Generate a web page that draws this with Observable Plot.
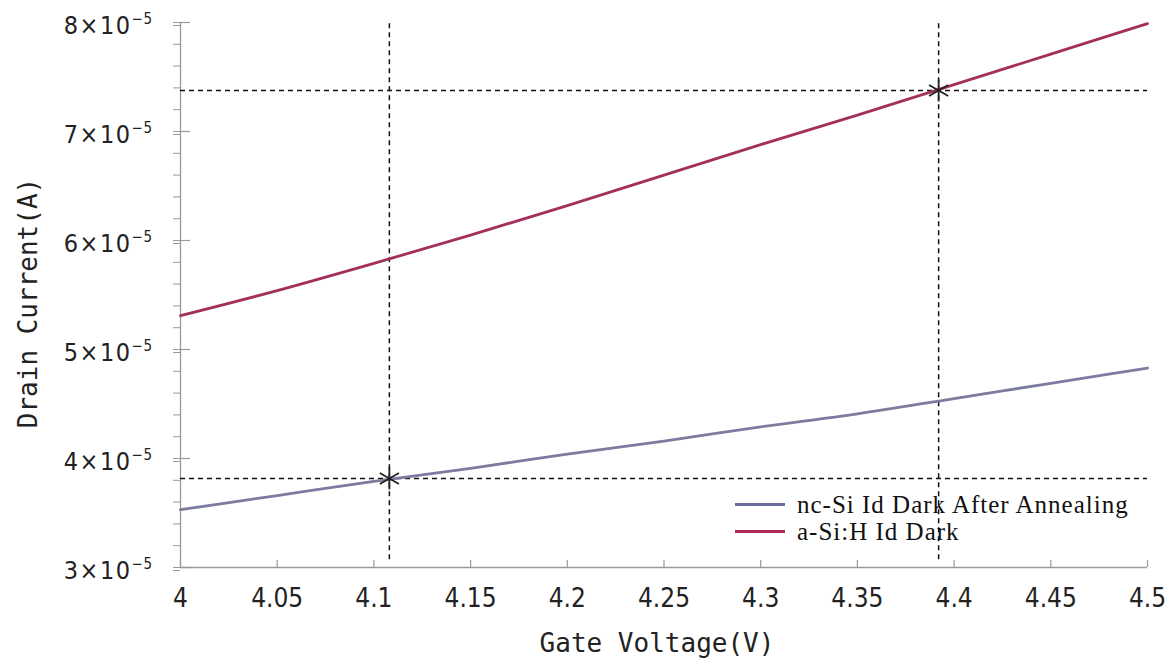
<!DOCTYPE html>
<html><head><meta charset="utf-8">
<script src="https://cdn.jsdelivr.net/npm/d3@7"></script>
<script src="https://cdn.jsdelivr.net/npm/@observablehq/plot@0.6"></script>
<style>
body{margin:0;background:#fff;}
#wrap{position:relative;width:1172px;height:667px;overflow:hidden;}
#legend{position:absolute;left:735px;top:491px;font-family:"Liberation Serif","Times New Roman",serif;font-size:25px;letter-spacing:1px;color:#111;line-height:1;}
.row{display:flex;align-items:center;height:27px;white-space:nowrap;}
.sw{width:50px;height:3px;margin-right:12px;}
</style></head><body><div id="wrap"></div>
<script>
// Gate voltage samples (V)
const voltage = [4.00, 4.05, 4.10, 4.15, 4.20, 4.25, 4.30, 4.35, 4.40, 4.45, 4.50];
// Drain current (A)
const ncSiAnnealed = [3.53e-5, 3.66e-5, 3.79e-5, 3.91e-5, 4.04e-5, 4.16e-5, 4.29e-5, 4.41e-5, 4.55e-5, 4.69e-5, 4.83e-5];
const aSiH = [5.31e-5, 5.54e-5, 5.79e-5, 6.05e-5, 6.32e-5, 6.60e-5, 6.88e-5, 7.15e-5, 7.43e-5, 7.71e-5, 7.99e-5];
const seriesNames = ["nc-Si Id Dark After Annealing", "a-Si:H Id Dark"];
const seriesColors = ["#7c7c9e", "#a3305c"];
const swatchColors = ["#6c6c9e", "#b02858"];
// marked operating points
const markV = [4.108, 4.392];
const markI = [3.817e-5, 7.376e-5];
// ticks
const xTicks = [4, 4.05, 4.1, 4.15, 4.2, 4.25, 4.3, 4.35, 4.4, 4.45, 4.5];
const yTicks = [3e-5, 4e-5, 5e-5, 6e-5, 7e-5, 8e-5];
const yMinor = d3.range(15, 41).map(k => k * 2e-6);
const xTitle = "Gate Voltage(V)";
const yTitle = "Drain Current(A)";

const rows = [];
voltage.forEach((v, i) => {
  rows.push({v, I: ncSiAnnealed[i], s: seriesNames[0]});
  rows.push({v, I: aSiH[i], s: seriesNames[1]});
});
const points = markV.map((v, i) => ({v, I: markI[i]}));

const axisGray = "#9a9a9a";
const tickFont = "'DejaVu Sans Condensed', 'DejaVu Sans', Verdana, sans-serif";
const monoFont = "'DejaVu Sans Mono', 'Liberation Mono', monospace";

const chart = Plot.plot({
  width: 1172, height: 667,
  marginLeft: 180, marginRight: 25, marginTop: 22, marginBottom: 100,
  style: {background: "#fff", overflow: "visible"},
  x: {domain: [4, 4.5]},
  y: {domain: [3e-5, 8e-5]},
  color: {domain: seriesNames, range: seriesColors},
  marks: [
    // axis lines
    Plot.ruleX([4], {stroke: axisGray, strokeWidth: 1.3}),
    Plot.ruleY([3e-5], {stroke: axisGray, strokeWidth: 1.3}),
    // y minor ticks (outside)
    Plot.axisY({ticks: yMinor, tickSize: 7, tickFormat: () => "", stroke: axisGray, label: null}),
    // y major ticks with labels
    Plot.axisY({ticks: yTicks, tickSize: 7, tickPadding: 21, stroke: axisGray, dy: 3,
      tickFormat: d => `${Math.round(d * 1e5)}×10`, fontSize: 25, fontFamily: tickFont, fill: "#222", label: null}),
    // y major ticks inner part
    Plot.tickY(yTicks, {y: d => d, stroke: axisGray, insetRight: 957, strokeWidth: 1.2}),
    // x ticks (inner, upward)
    Plot.tickX(xTicks, {x: d => d, stroke: axisGray, insetTop: 538, strokeWidth: 1.2}),
    Plot.axisX({ticks: xTicks, tickSize: 0, tickPadding: 21, tickFormat: d => String(+d.toFixed(2)),
      fontSize: 26, fontFamily: tickFont, fill: "#222", label: null}),
    // dashed guide lines
    Plot.ruleX(markV, {x: d => d, stroke: "#111", strokeWidth: 1.5, strokeDasharray: "5,4", y1: 3.07e-5, y2: 8e-5}),
    Plot.ruleY(markI, {y: d => d, stroke: "#111", strokeWidth: 1.5, strokeDasharray: "5,4"}),
    // series
    Plot.line(rows, {x: "v", y: "I", z: "s", stroke: "s", strokeWidth: 2.8, curve: "monotone-x"}),
    // markers
    Plot.dot(points, {x: "v", y: "I", symbol: "asterisk", r: 10.5, stroke: "#222", strokeWidth: 1.8}),
    // axis titles
    Plot.text([xTitle], {text: d => d, frameAnchor: "bottom", dy: 76, dx: -7, fontSize: 26, fontFamily: monoFont, fill: "#222", lineAnchor: "middle", textAnchor: "middle"}),
    Plot.text([yTitle], {text: d => d, frameAnchor: "left", dx: -152, dy: 8, rotate: -90, fontSize: 26, fontFamily: monoFont, fill: "#222", lineAnchor: "middle", textAnchor: "middle"})
  ]
});

// superscript exponents on y tick labels
d3.select(chart).selectAll('g[aria-label="y-axis tick label"] text').each(function () {
  const t = d3.select(this);
  const s = t.text();
  if (!s) return;
  t.text(null).attr("letter-spacing", "1.5");
  t.append("tspan").text(s);
  t.append("tspan").attr("dy", "-0.62em").attr("font-size", "15px").attr("letter-spacing", "0.5").text("−5");
});

const wrap = document.getElementById("wrap");
wrap.appendChild(chart);
const legend = document.createElement("div");
legend.id = "legend";
legend.innerHTML = seriesNames.map((n, i) =>
  `<div class="row"><span class="sw" style="background:${swatchColors[i]}"></span><span>${n}</span></div>`).join("");
wrap.appendChild(legend);
</script></body></html>
